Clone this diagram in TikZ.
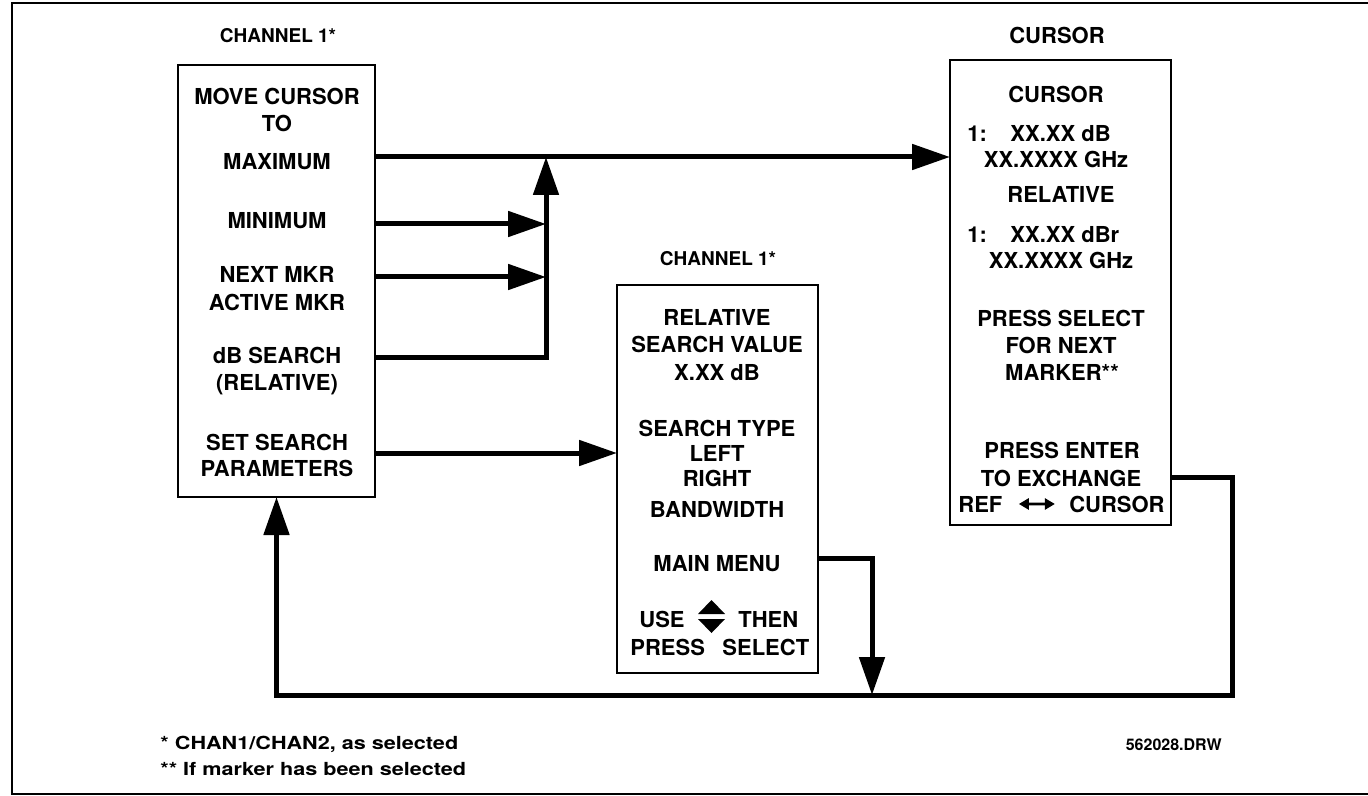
\documentclass[tikz,border=0pt]{standalone}
\usepackage{fontspec}
\setmainfont{TeX Gyre Heros}
\newfontfamily\footfont[FakeStretch=1.2]{TeX Gyre Heros}
\usetikzlibrary{arrows.meta,calc}
\begin{document}
\begin{tikzpicture}[x=0.5pt,y=-0.5pt,
  txt/.style={font=\fontsize{11}{13}\selectfont\bfseries, inner sep=2pt, anchor=base},
  ttl/.style={font=\fontsize{9.5}{11}\selectfont\bfseries, inner sep=2pt, anchor=base},
  fn/.style={font=\footfont\fontsize{9}{11}\selectfont\bfseries, inner sep=2pt, anchor=base west},
  box/.style={draw, line width=1pt, inner sep=0pt, outer sep=0pt},
  con/.style={line width=2.5pt},
  arr/.style={con, -{Triangle[length=19pt,width=12.5pt]}},
  dbl/.style={line width=1.3pt, {Triangle[length=5pt,width=5.5pt]}-{Triangle[length=5pt,width=5.5pt]}},
]
\useasboundingbox (0,0) rectangle (1368,796);
\fill[white] (0,0) rectangle (1368,796);
% frame
\draw[line width=1.2pt] (1368,3) -- (12,3) -- (12,794) -- (1368,794);

% boxes
\node[box, minimum width=98.5pt, minimum height=216pt] (lbox) at (276.5,281) {};
\node[box, minimum width=100.5pt, minimum height=194pt] (mbox) at (717.5,479) {};
\node[box, minimum width=110.5pt, minimum height=232.5pt] (rbox) at (1060.5,292.5) {};

% titles
\node[ttl] (tl1) at (278,43) {CHANNEL 1*};
\node[ttl] (tl2) at (718,266) {CHANNEL 1*};
\node[txt] (tl3) at (1057,44) {CURSOR};

% left box text
\node[txt] (tmove) at (277,105) {MOVE CURSOR};
\node[txt] (tto) at (277,132) {TO};
\node[txt] (tmax) at (277,170) {MAXIMUM};
\node[txt] (tmin) at (277,229) {MINIMUM};
\node[txt] (tnext) at (277,283) {NEXT MKR};
\node[txt] (tact) at (277,311) {ACTIVE MKR};
\node[txt] (tdb) at (277,363) {dB SEARCH};
\node[txt] (trel) at (277,390) {(RELATIVE)};
\node[txt] (tset) at (277,450) {SET SEARCH};
\node[txt] (tpar) at (277,476) {PARAMETERS};

% middle box text
\node[txt] (m1) at (717,325) {RELATIVE};
\node[txt] (m2) at (717,352) {SEARCH VALUE};
\node[txt] (m3) at (717,380) {X.XX dB};
\node[txt] (m4) at (717,436) {SEARCH TYPE};
\node[txt] (m5) at (717,461) {LEFT};
\node[txt] (m6) at (717,486) {RIGHT};
\node[txt] (m7) at (717,517) {BANDWIDTH};
\node[txt] (tmain) at (717,571) {MAIN MENU};
\node[txt, anchor=base west] (muse) at (635,627) {USE};
\node[txt, anchor=base west] (mthen) at (734,627) {THEN};
\node[txt, anchor=base west] (mpress) at (626,655) {PRESS};
\node[txt, anchor=base west] (msel) at (718,655) {SELECT};
\fill (698,614) -- (725,614) -- (711.5,600) -- cycle;
\fill (698,619) -- (725,619) -- (711.5,633) -- cycle;

% right box text
\node[txt] (r1) at (1056,103) {CURSOR};
\node[txt, anchor=base west] (r2a) at (963,142) {1:};
\node[txt, anchor=base west] (r2b) at (1006,142) {XX.XX dB};
\node[txt] (r3) at (1056,168) {XX.XXXX GHz};
\node[txt] (r4) at (1061,203) {RELATIVE};
\node[txt, anchor=base west] (r5a) at (963,243) {1:};
\node[txt, anchor=base west] (r5b) at (1006,243) {XX.XX dBr};
\node[txt] (r6) at (1061,269) {XX.XXXX GHz};
\node[txt] (r7) at (1061,327) {PRESS SELECT};
\node[txt] (r8) at (1061,353) {FOR NEXT};
\node[txt] (r9) at (1062,380) {MARKER**};
\node[txt] (r10) at (1062,458) {PRESS ENTER};
\node[txt] (ttoex) at (1061,486) {TO EXCHANGE};
\node[txt, anchor=base west] (tref) at (954,512) {REF};
\node[txt, anchor=base east] (tcur) at (1169,512) {CURSOR};
\draw[dbl, shorten <=6pt, shorten >=5pt] (tref.east) -- (tcur.west);

% junction coordinates
\coordinate (jmax) at (546,157);
\coordinate (jmin) at (546,224);
\coordinate (jnext) at (546,277);
\coordinate (jdb) at (546,357);
\coordinate (jset) at (600,453);
\coordinate (jmain) at (872,558);
\coordinate (jbot) at (872,695);
\coordinate (rcor) at (1232,477);
\coordinate (rbot) at (1232,695);
\coordinate (lbot) at (276.5,695);

% connectors
\draw[arr] (lbox.east |- jmax) -- (rbox.west |- jmax);
\draw[arr] (lbox.east |- jmin) -- (jmin);
\draw[arr] (lbox.east |- jnext) -- (jnext);
\draw[arr] (lbox.east |- jdb) -- (jdb) -- (jmax);
\draw[arr] (lbox.east |- jset) -- (mbox.west |- jset);
\draw[arr] (mbox.east |- jmain) -- (jmain) -- (jbot);
\draw[arr] (rbox.east |- rcor) -- (rcor) -- (rbot) -- (lbot) -- (lbox.south);

% footnotes
\node[fn] (f1) at (156,749) {* CHAN1/CHAN2, as selected};
\node[fn] (f2) at (156,775) {** If marker has been selected};
\node[font=\fontsize{8}{10}\selectfont\bfseries, inner sep=2pt, anchor=base east] (drw) at (1226,750) {562028.DRW};
\end{tikzpicture}
\end{document}
